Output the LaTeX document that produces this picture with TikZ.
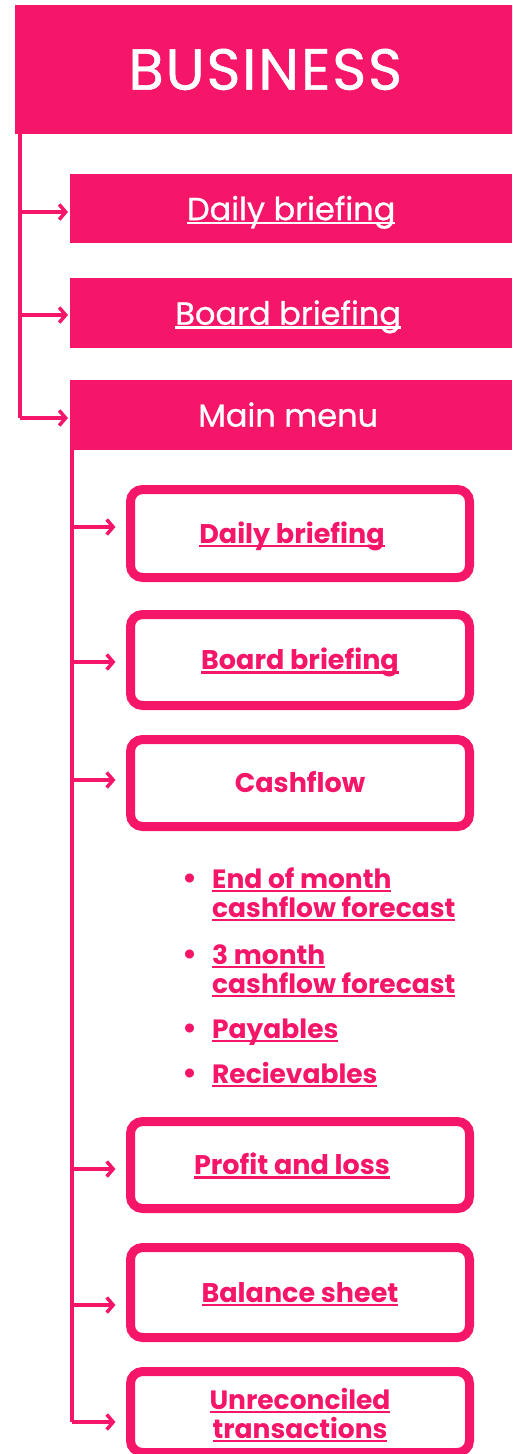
\documentclass[tikz,border=0pt]{standalone}
\usepackage{fontspec}
\setmainfont{Poppins}
\usetikzlibrary{arrows.meta}
\definecolor{pk}{HTML}{F51569}
\newcommand\myul[1]{\setbox0\hbox{#1}\rlap{\vrule width\wd0 height -1.5pt depth 4pt}\box0}
\newcommand\mybul{\llap{\raisebox{0pt}{\fontsize{30}{30}\selectfont •}\hspace{15pt}}}
\begin{document}
\begin{tikzpicture}[x=1pt,y=-1pt,
  bigbox/.style={fill=pk, text=white, anchor=north west, inner sep=0pt},
  topbox/.style={fill=pk, text=white, anchor=north west, inner sep=0pt, minimum width=442pt,
     font=\fontsize{32}{36}\selectfont\addfontfeature{FakeBold=0.8}, text height=23pt, text depth=0pt},
  subbox/.style={draw=pk, line width=9pt, rounded corners=12pt, minimum width=339pt, inner sep=0pt,
     text=pk, font=\bfseries\fontsize{27}{30}\selectfont, text height=19pt, text depth=0pt},
  itemtext/.style={text=pk, font=\bfseries\fontsize{26.5}{30}\selectfont, anchor=base west, inner sep=0pt, align=left},
  trunk/.style={draw=pk, line width=4pt},
  arr/.style={draw=pk, line width=3.5pt, -{Straight Barb[length=6.5pt, width=15pt]}}
]
\useasboundingbox (0,0) rectangle (512,1454);
\clip (0,0) rectangle (512,1454);

% top level
\node[bigbox, minimum width=500pt, minimum height=129pt,
      font=\fontsize{58}{60}\selectfont\addfontfeature{LetterSpace=3,FakeBold=0.8},
      text height=40pt, text depth=0pt] (biz) at (15,5) {BUSINESS};
\node[topbox, minimum height=69pt] (d1) at (70,174) {\myul{Daily briefing}};
\node[topbox, minimum height=70pt] (b1) at (70,278) {\myul{Board briefing}\kern6pt};
\node[topbox, minimum height=70pt] (m1) at (70,380) {Main menu\kern6pt};

\coordinate (a1) at (19.5,212);
\coordinate (a2) at (19.5,315);
\coordinate (a3) at (19.5,418);
\draw[trunk] (biz.south west -| a1) -- (a3);
\draw[arr, shorten >=2pt] (a1) -- (a1 -| d1.west);
\draw[arr, shorten >=2pt] (a2) -- (a2 -| b1.west);
\draw[arr, shorten >=2pt] (a3) -- (a3 -| m1.west);

% sub level
\node[subbox, minimum height=88pt] (s1) at (300,533.5) {\myul{Daily briefing}\kern16pt};
\node[subbox, minimum height=91pt] (s2) at (300,660) {\myul{Board briefing}};
\node[subbox, minimum height=87pt] (s3) at (300,783) {Cashflow};
\node[subbox, minimum height=87pt] (s4) at (300,1165) {\myul{Profit and loss}\kern16pt};
\node[subbox, minimum height=90pt] (s5) at (300,1292.5) {\myul{Balance sheet}};
\node[subbox, minimum height=81pt] (s6) at (300,1412) {};
\node[itemtext, anchor=base, align=center] (s6t) at (300,1438) {\myul{Unreconciled}\\[-1pt]\myul{transactions}};

\node[itemtext] (i1) at (212,917) {\mybul\myul{End of month}\\[-1pt]\myul{cashflow forecast}};
\node[itemtext] (i2) at (212,993) {\mybul\myul{3 month}\\[-1pt]\myul{cashflow forecast}};
\node[itemtext] (i3) at (212,1038) {\mybul\myul{Payables}};
\node[itemtext] (i4) at (212,1083) {\mybul\myul{Recievables}};

\coordinate (c1) at (72,527);
\coordinate (c2) at (72,662);
\coordinate (c3) at (72,780);
\coordinate (c4) at (72,1169);
\coordinate (c5) at (72,1305);
\coordinate (c6) at (72,1422);
\draw[trunk] (m1.south west -| c1) -- (c6);
\foreach \c/\s in {c1/s1,c2/s2,c3/s3,c4/s4,c5/s5,c6/s6}
  \draw[arr, shorten >=10.5pt] (\c) -- (\c -| \s.west);
\end{tikzpicture}
\end{document}
